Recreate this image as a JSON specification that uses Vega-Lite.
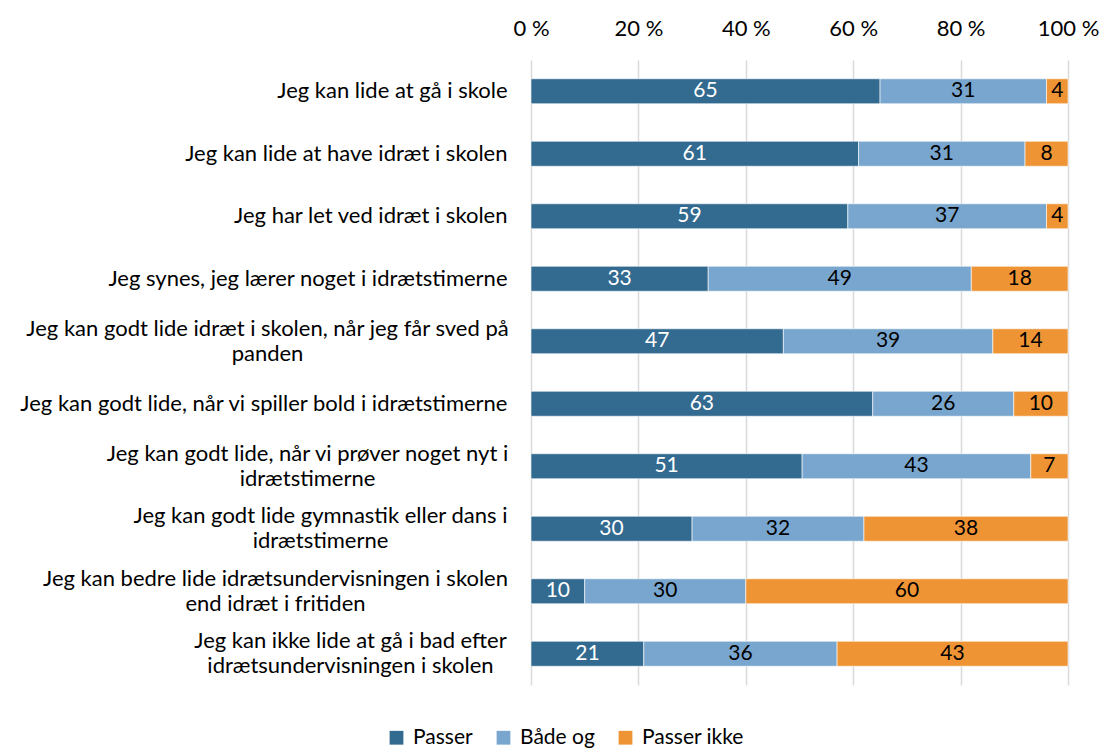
{
  "$schema": "https://vega.github.io/schema/vega-lite/v6.json",
  "width": 537,
  "height": 625,
  "autosize": {"type": "none"},
  "padding": {"left": 531, "top": 60, "right": 32, "bottom": 64},
  "background": "white",
  "config": {
    "view": {"stroke": null},
    "font": "Lato"
  },
  "data": {
    "values": [
      {"q": "Jeg kan lide at gå i skole", "cat": "Passer", "o": 1, "v": 65},
      {"q": "Jeg kan lide at gå i skole", "cat": "Både og", "o": 2, "v": 31},
      {"q": "Jeg kan lide at gå i skole", "cat": "Passer ikke", "o": 3, "v": 4},
      {"q": "Jeg kan lide at have idræt i skolen", "cat": "Passer", "o": 1, "v": 61},
      {"q": "Jeg kan lide at have idræt i skolen", "cat": "Både og", "o": 2, "v": 31},
      {"q": "Jeg kan lide at have idræt i skolen", "cat": "Passer ikke", "o": 3, "v": 8},
      {"q": "Jeg har let ved idræt i skolen", "cat": "Passer", "o": 1, "v": 59},
      {"q": "Jeg har let ved idræt i skolen", "cat": "Både og", "o": 2, "v": 37},
      {"q": "Jeg har let ved idræt i skolen", "cat": "Passer ikke", "o": 3, "v": 4},
      {"q": "Jeg synes, jeg lærer noget i idrætstimerne", "cat": "Passer", "o": 1, "v": 33},
      {"q": "Jeg synes, jeg lærer noget i idrætstimerne", "cat": "Både og", "o": 2, "v": 49},
      {"q": "Jeg synes, jeg lærer noget i idrætstimerne", "cat": "Passer ikke", "o": 3, "v": 18},
      {"q": "Jeg kan godt lide idræt i skolen, når jeg får sved på|panden", "cat": "Passer", "o": 1, "v": 47},
      {"q": "Jeg kan godt lide idræt i skolen, når jeg får sved på|panden", "cat": "Både og", "o": 2, "v": 39},
      {"q": "Jeg kan godt lide idræt i skolen, når jeg får sved på|panden", "cat": "Passer ikke", "o": 3, "v": 14},
      {"q": "Jeg kan godt lide, når vi spiller bold i idrætstimerne", "cat": "Passer", "o": 1, "v": 63},
      {"q": "Jeg kan godt lide, når vi spiller bold i idrætstimerne", "cat": "Både og", "o": 2, "v": 26},
      {"q": "Jeg kan godt lide, når vi spiller bold i idrætstimerne", "cat": "Passer ikke", "o": 3, "v": 10},
      {"q": "Jeg kan godt lide, når vi prøver noget nyt i|idrætstimerne", "cat": "Passer", "o": 1, "v": 51},
      {"q": "Jeg kan godt lide, når vi prøver noget nyt i|idrætstimerne", "cat": "Både og", "o": 2, "v": 43},
      {"q": "Jeg kan godt lide, når vi prøver noget nyt i|idrætstimerne", "cat": "Passer ikke", "o": 3, "v": 7},
      {"q": "Jeg kan godt lide gymnastik eller dans i|idrætstimerne", "cat": "Passer", "o": 1, "v": 30},
      {"q": "Jeg kan godt lide gymnastik eller dans i|idrætstimerne", "cat": "Både og", "o": 2, "v": 32},
      {"q": "Jeg kan godt lide gymnastik eller dans i|idrætstimerne", "cat": "Passer ikke", "o": 3, "v": 38},
      {"q": "Jeg kan bedre lide idrætsundervisningen i skolen|end idræt i fritiden", "cat": "Passer", "o": 1, "v": 10},
      {"q": "Jeg kan bedre lide idrætsundervisningen i skolen|end idræt i fritiden", "cat": "Både og", "o": 2, "v": 30},
      {"q": "Jeg kan bedre lide idrætsundervisningen i skolen|end idræt i fritiden", "cat": "Passer ikke", "o": 3, "v": 60},
      {"q": "Jeg kan ikke lide at gå i bad efter|idrætsundervisningen i skolen", "cat": "Passer", "o": 1, "v": 21},
      {"q": "Jeg kan ikke lide at gå i bad efter|idrætsundervisningen i skolen", "cat": "Både og", "o": 2, "v": 36},
      {"q": "Jeg kan ikke lide at gå i bad efter|idrætsundervisningen i skolen", "cat": "Passer ikke", "o": 3, "v": 43}
    ]
  },
  "encoding": {
    "y": {
      "field": "q",
      "type": "nominal",
      "sort": null,
      "scale": {"paddingInner": 0.6, "paddingOuter": 0.3},
      "axis": {
        "title": null,
        "domain": false,
        "ticks": false,
        "labelExpr": "split(datum.label, '|')",
        "labelFontSize": 22,
        "labelColor": "#000000",
        "labelLimit": 530,
        "labelLineHeight": 25,
        "labelOffset": {"condition": {"test": "indexof(datum.value, '|') >= 0", "value": -12.5}, "value": 0},
        "labelAlign": {"condition": {"test": "indexof(datum.value, '|') >= 0", "value": "center"}, "value": "right"},
        "labelPadding": {
          "condition": [
            {"test": "indexof(datum.value, 'sved på') >= 0", "value": 264},
            {"test": "indexof(datum.value, 'prøver noget') >= 0", "value": 224},
            {"test": "indexof(datum.value, 'gymnastik') >= 0", "value": 211},
            {"test": "indexof(datum.value, 'bedre lide') >= 0", "value": 256},
            {"test": "indexof(datum.value, 'bad efter') >= 0", "value": 181}
          ],
          "value": 24
        }
      }
    },
    "x": {
      "field": "v",
      "type": "quantitative",
      "stack": "normalize",
      "scale": {"domain": [0, 1], "nice": false},
      "axis": {
        "orient": "top",
        "title": null,
        "values": [0, 0.2, 0.4, 0.6, 0.8, 1],
        "labelExpr": "round(datum.value*100) + ' %'",
        "labelFontSize": 22,
        "labelColor": "#000000",
        "labelPadding": 20,
        "labelFlush": false,
        "domain": false,
        "ticks": false,
        "grid": true,
        "gridColor": "#d9d9d9",
        "gridWidth": 1.5
      }
    },
    "order": {"field": "o", "type": "quantitative"}
  },
  "layer": [
    {
      "mark": {"type": "bar", "stroke": "white", "strokeWidth": 0.6},
      "encoding": {
        "color": {
          "field": "cat",
          "type": "nominal",
          "sort": ["Passer", "Både og", "Passer ikke"],
          "scale": {"domain": ["Passer", "Både og", "Passer ikke"], "range": ["#336a90", "#79a6ce", "#ef9435"]},
          "legend": {
            "title": null,
            "orient": "none",
            "direction": "horizontal",
            "legendX": -145,
            "legendY": 667,
            "symbolType": "square",
            "symbolSize": 190,
            "symbolStrokeWidth": 0,
            "labelFontSize": 21,
            "labelColor": "#000000",
            "columnPadding": 20,
            "labelOffset": 6
          }
        }
      }
    },
    {
      "mark": {"type": "text", "fontSize": 21, "baseline": "middle"},
      "encoding": {
        "x": {"field": "v", "type": "quantitative", "stack": "normalize", "bandPosition": 0.5},
        "text": {"field": "v", "type": "quantitative"},
        "color": {
          "condition": {"test": "datum.cat === 'Passer'", "value": "#ffffff"},
          "value": "#000000"
        }
      }
    }
  ]
}
